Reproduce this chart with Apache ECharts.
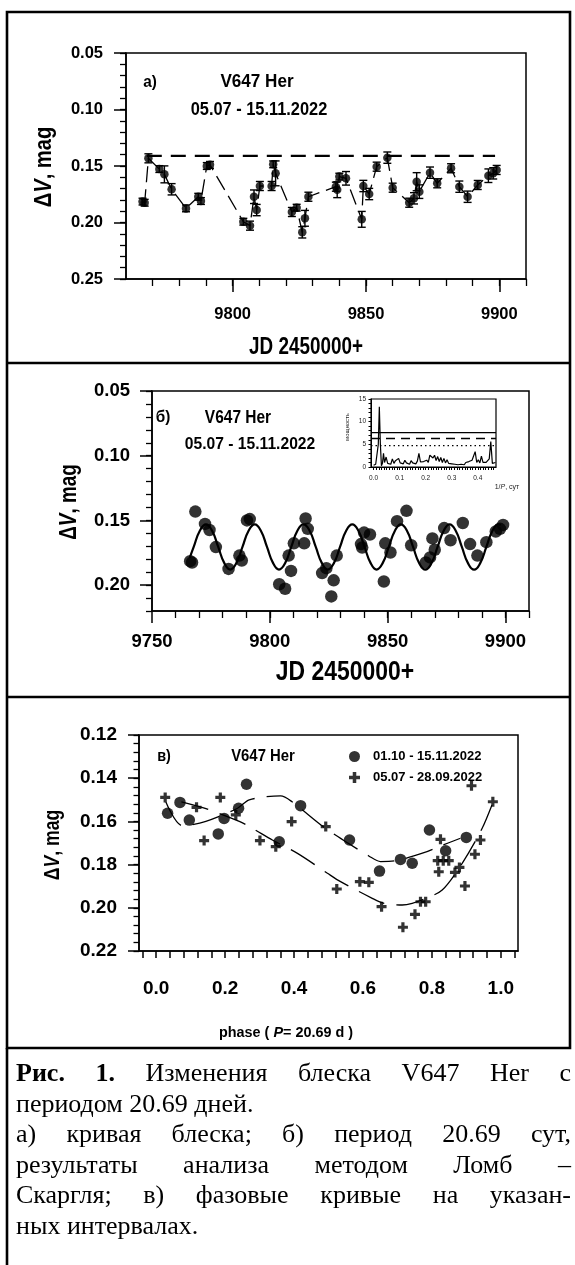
<!DOCTYPE html>
<html><head><meta charset="utf-8">
<script src="https://cdn.jsdelivr.net/npm/echarts@6/dist/echarts.min.js"></script>
<style>
html,body{margin:0;padding:0;background:#fff;}
#chart{position:absolute;left:0;top:0;width:575px;height:1265px;}
#cap{position:absolute;left:16px;width:555px;top:1058px;font-family:'Liberation Serif','Times New Roman',serif;font-size:26px;line-height:30.6px;color:#000;}
#cap .j{text-align:justify;text-align-last:justify;}
#cap div{white-space:nowrap;}
</style></head>
<body>
<div id="chart"></div>
<div id="cap">
<div class="j"><b>Рис. 1.</b> Изменения блеска V647 Her с</div>
<div>периодом 20.69 дней.</div>
<div class="j">а) кривая блеска; б) период 20.69 сут,</div>
<div class="j">результаты анализа методом Ломб –</div>
<div class="j">Скаргля; в) фазовые кривые на указан-</div>
<div>ных интервалах.</div>
</div>
<script>
// ---------- DATA ----------
// Light curve (panels a and б): JD 2450000+ and ΔV (mag), with errors for panel a
const jd = [9766.2, 9767.0, 9768.4, 9772.5, 9774.4, 9777.1, 9782.5, 9787.1, 9788.1, 9790.3, 9791.5, 9804.0, 9806.5, 9808.0, 9809.0, 9810.2, 9814.6, 9815.2, 9816.1, 9822.2, 9824.0, 9826.1, 9827.1, 9828.4, 9838.7, 9839.2, 9840.0, 9842.5, 9848.4, 9849.0, 9851.2, 9854.0, 9858.0, 9860.0, 9866.2, 9868.0, 9869.0, 9870.0, 9874.0, 9876.7, 9881.9, 9885.0, 9888.1, 9891.9, 9895.9, 9897.7, 9899.0];
const mag = [0.1815, 0.1825, 0.1432, 0.1527, 0.1574, 0.1706, 0.1875, 0.1772, 0.1810, 0.1500, 0.1490, 0.1993, 0.2028, 0.1772, 0.1890, 0.1677, 0.1677, 0.1485, 0.1565, 0.1907, 0.1869, 0.2087, 0.1963, 0.1772, 0.1683, 0.1710, 0.1594, 0.1609, 0.1972, 0.1677, 0.1748, 0.1506, 0.1426, 0.1692, 0.1825, 0.1786, 0.1639, 0.1727, 0.1559, 0.1653, 0.1520, 0.1683, 0.1772, 0.1668, 0.1586, 0.1565, 0.1535];
const magErr = [0.003, 0.003, 0.004, 0.003, 0.0075, 0.005, 0.003, 0.003, 0.003, 0.003, 0.003, 0.003, 0.004, 0.006, 0.005, 0.004, 0.004, 0.003, 0.011, 0.004, 0.003, 0.005, 0.007, 0.004, 0.004, 0.007, 0.003, 0.006, 0.007, 0.005, 0.005, 0.004, 0.005, 0.004, 0.004, 0.005, 0.008, 0.006, 0.005, 0.004, 0.004, 0.005, 0.005, 0.004, 0.006, 0.005, 0.004];
// Panel a: dashed reference level
const refJD = [9767.8, 9898.4];
const refMag = [0.141, 0.141];
// Panel б: fitted curve (P = 20.69 d)
const fitJD = [9766.0, 9767.7, 9770.3, 9772.9, 9775.5, 9778.1, 9780.7, 9783.2, 9785.8, 9788.4, 9791.0, 9793.6, 9796.2, 9798.8, 9801.4, 9803.9, 9806.5, 9809.1, 9811.7, 9814.3, 9816.9, 9819.5, 9822.1, 9824.6, 9827.2, 9829.8, 9832.4, 9835.0, 9837.6, 9840.2, 9842.8, 9845.3, 9847.9, 9850.5, 9853.1, 9855.6, 9858.2, 9860.8, 9863.4, 9866.0, 9868.6, 9871.2, 9873.8, 9876.3, 9878.9, 9881.5, 9884.1, 9886.7, 9889.3, 9891.9, 9894.5, 9897.0, 9898.0];
const fitMag = [0.179, 0.1705, 0.158, 0.153, 0.158, 0.1705, 0.183, 0.188, 0.183, 0.1705, 0.158, 0.153, 0.158, 0.1705, 0.183, 0.188, 0.183, 0.1705, 0.158, 0.153, 0.158, 0.1705, 0.183, 0.188, 0.183, 0.1705, 0.158, 0.153, 0.158, 0.1705, 0.183, 0.188, 0.183, 0.1705, 0.158, 0.153, 0.158, 0.1705, 0.183, 0.188, 0.183, 0.1705, 0.158, 0.153, 0.158, 0.1705, 0.183, 0.188, 0.183, 0.1705, 0.158, 0.153, 0.1535];
// Inset: Lomb-Scargle periodogram
const freq = [0.000, 0.008, 0.014, 0.018, 0.022, 0.026, 0.030, 0.034, 0.038, 0.042, 0.048, 0.054, 0.060, 0.066, 0.072, 0.078, 0.084, 0.090, 0.096, 0.102, 0.108, 0.114, 0.120, 0.126, 0.132, 0.138, 0.144, 0.150, 0.156, 0.162, 0.168, 0.174, 0.180, 0.186, 0.192, 0.198, 0.204, 0.210, 0.216, 0.222, 0.228, 0.234, 0.240, 0.246, 0.252, 0.258, 0.264, 0.270, 0.276, 0.282, 0.288, 0.294, 0.300, 0.306, 0.312, 0.318, 0.324, 0.330, 0.336, 0.342, 0.348, 0.354, 0.360, 0.366, 0.372, 0.378, 0.384, 0.390, 0.396, 0.402, 0.408, 0.414, 0.420, 0.426, 0.432, 0.438, 0.444, 0.450, 0.456, 0.462, 0.468];
const power = [0.4, 0.6, 1.0, 5.0, 13.3, 5.0, 0.3, 0.8, 3.0, 1.0, 2.2, 0.8, 1.2, 0.6, 1.8, 0.8, 1.4, 1.0, 1.9, 0.9, 1.2, 0.7, 1.5, 0.9, 1.1, 0.6, 1.4, 0.9, 1.2, 0.7, 1.3, 3.0, 1.1, 0.7, 1.2, 0.8, 1.5, 1.0, 2.6, 3.0, 2.0, 2.6, 1.4, 2.3, 1.2, 2.1, 1.0, 1.9, 0.9, 1.6, 0.8, 1.2, 0.7, 1.0, 0.6, 0.9, 0.5, 0.8, 0.6, 0.9, 0.5, 1.0, 0.8, 1.2, 0.9, 1.5, 1.2, 3.4, 1.0, 1.6, 0.9, 2.4, 1.0, 0.7, 1.0, 0.6, 1.8, 5.6, 0.8, 0.5, 1.0];
const sigLevels = [7.6, 6.3, 4.7];   // solid, dashed, dotted
// Panel в: phase curves
const circPhase = [0.033, 0.069, 0.096, 0.180, 0.197, 0.239, 0.262, 0.357, 0.419, 0.561, 0.648, 0.709, 0.743, 0.793, 0.840, 0.900];
const circMag = [0.1562, 0.1512, 0.1594, 0.1658, 0.1586, 0.1539, 0.1428, 0.1694, 0.1527, 0.1686, 0.1830, 0.1776, 0.1794, 0.1640, 0.1736, 0.1674];
const plusPhase = [0.026, 0.117, 0.139, 0.186, 0.231, 0.301, 0.347, 0.393, 0.492, 0.524, 0.591, 0.617, 0.654, 0.716, 0.751, 0.767, 0.782, 0.825, 0.817, 0.833, 0.849, 0.820, 0.867, 0.880, 0.896, 0.915, 0.925, 0.941, 0.977];
const plusMag = [0.1489, 0.1535, 0.1689, 0.1489, 0.1570, 0.1689, 0.1717, 0.1601, 0.1624, 0.1913, 0.1879, 0.1882, 0.1995, 0.2090, 0.2030, 0.1972, 0.1972, 0.1683, 0.1782, 0.1782, 0.1782, 0.1833, 0.1836, 0.1813, 0.1899, 0.1435, 0.1752, 0.1686, 0.1509];
const upPhase = [0.028, 0.076, 0.144, 0.236, 0.270, 0.361, 0.394, 0.487, 0.555, 0.617, 0.651, 0.695, 0.777, 0.820, 0.883];
const upMag = [0.151, 0.162, 0.160, 0.1539, 0.150, 0.1482, 0.1509, 0.1627, 0.1699, 0.1760, 0.1786, 0.1782, 0.1745, 0.1717, 0.1678];
const loPhase = [0.073, 0.142, 0.241, 0.279, 0.337, 0.410, 0.497, 0.535, 0.627, 0.661, 0.714, 0.743, 0.782, 0.830, 0.888, 0.946, 0.980];
const loMag = [0.151, 0.154, 0.160, 0.1632, 0.1686, 0.1748, 0.1840, 0.1879, 0.1956, 0.1979, 0.1987, 0.1979, 0.1956, 0.1918, 0.1794, 0.1632, 0.1501];
const legendNames = ['01.10 - 15.11.2022', '05.07 - 28.09.2022'];
// Tick labels
const aXLabels = [9800, 9850, 9900];
const aYLabels = [0.05, 0.10, 0.15, 0.20, 0.25];
const bXLabels = [9750, 9800, 9850, 9900];
const bYLabels = [0.05, 0.10, 0.15, 0.20];
const inXLabels = [0.0, 0.1, 0.2, 0.3, 0.4];
const inYLabels = [0, 5, 10, 15];
const cXLabels = [0.0, 0.2, 0.4, 0.6, 0.8, 1.0];
const cYLabels = [0.12, 0.14, 0.16, 0.18, 0.20, 0.22];

// ---------- helpers ----------
function range(a, b, s) { const r = []; const n = Math.round((b - a) / s); for (let i = 0; i <= n; i++) r.push(+(a + i * s).toFixed(6)); return r; }
function zip(a, b) { return a.map((v, i) => [v, b[i]]); }
const FN = "'Liberation Sans',Arial,sans-serif";
const K = '#000';

function mainAxis(o) {
  return {
    type: 'value', gridIndex: o.grid, position: o.pos, min: o.min, max: o.max, inverse: !!o.inverse,
    axisLine: { show: true, onZero: false, lineStyle: { color: K, width: o.lw || 1.5 } },
    axisTick: { show: true, inside: false, customValues: o.ticks, length: o.tlen, lineStyle: { color: K, width: o.lw || 1.5 } },
    axisLabel: { show: true, customValues: o.labels, formatter: o.fmt, margin: o.margin,
      fontFamily: FN, fontWeight: o.fw || 'bold', fontSize: o.fs, color: o.col || K },
    splitLine: { show: false }, minorTick: { show: false }
  };
}
function minorAxis(o) {
  return {
    type: 'value', gridIndex: o.grid, position: o.pos, min: o.min, max: o.max, inverse: !!o.inverse,
    axisLine: { show: false, onZero: false },
    axisTick: { show: true, inside: false, customValues: o.ticks, length: o.tlen, lineStyle: { color: K, width: o.lw || 1.3 } },
    axisLabel: { show: false }, splitLine: { show: false }
  };
}
const f2 = v => v.toFixed(2), f1 = v => v.toFixed(1), f0 = v => String(Math.round(v));

const plusPath = 'path://M3.4,0h3.2v3.4h3.4v3.2h-3.4v3.4h-3.2v-3.4h-3.4v-3.2h3.4z';

const xAxis = [
  mainAxis({ grid: 0, pos: 'bottom', min: 9760, max: 9910, ticks: aXLabels, labels: aXLabels, fmt: f0, tlen: 13, margin: 27, fs: 16.5 }),
  minorAxis({ grid: 0, pos: 'bottom', min: 9760, max: 9910, ticks: range(9770, 9910, 10), tlen: 7 }),
  mainAxis({ grid: 1, pos: 'bottom', min: 9750, max: 9910, ticks: bXLabels, labels: bXLabels, fmt: f0, tlen: 12, margin: 21, fs: 18.5 }),
  minorAxis({ grid: 1, pos: 'bottom', min: 9750, max: 9910, ticks: range(9760, 9910, 10), tlen: 7 }),
  mainAxis({ grid: 2, pos: 'bottom', min: -0.01, max: 0.47, ticks: range(0, 0.46, 0.01), labels: inXLabels, fmt: f1, tlen: 3, margin: 8, fs: 6.5, lw: 1, fw: 'normal', col: '#222' }),
  mainAxis({ grid: 3, pos: 'bottom', min: -0.05, max: 1.05, ticks: range(-0.04, 1.04, 0.04), labels: cXLabels, fmt: f1, tlen: 7, margin: 28, fs: 19 })
];
const yAxis = [
  mainAxis({ grid: 0, pos: 'left', min: 0.05, max: 0.25, inverse: true, ticks: aYLabels, labels: aYLabels, fmt: f2, tlen: 12, margin: 23, fs: 16.5 }),
  minorAxis({ grid: 0, pos: 'left', min: 0.05, max: 0.25, inverse: true, ticks: range(0.05, 0.25, 0.01), tlen: 6 }),
  mainAxis({ grid: 1, pos: 'left', min: 0.05, max: 0.22, inverse: true, ticks: bYLabels, labels: bYLabels, fmt: f2, tlen: 12, margin: 22, fs: 18.5 }),
  minorAxis({ grid: 1, pos: 'left', min: 0.05, max: 0.22, inverse: true, ticks: range(0.05, 0.22, 0.01), tlen: 6 }),
  mainAxis({ grid: 2, pos: 'left', min: 0, max: 15, ticks: range(0, 15, 1), labels: inYLabels, fmt: f0, tlen: 2.5, margin: 5, fs: 6.5, lw: 1, fw: 'normal', col: '#222' }),
  mainAxis({ grid: 3, pos: 'left', min: 0.12, max: 0.22, inverse: true, ticks: cYLabels, labels: cYLabels, fmt: f2, tlen: 11, margin: 22, fs: 19 }),
  minorAxis({ grid: 3, pos: 'left', min: 0.12, max: 0.22, inverse: true, ticks: range(0.12, 0.22, 0.004), tlen: 5.5 })
];

const grid = [
  { left: 126, top: 53, width: 400, height: 226, show: true, borderColor: K, borderWidth: 1.5, backgroundColor: 'transparent' },
  { left: 152, top: 391, width: 377, height: 220, show: true, borderColor: K, borderWidth: 1.5, backgroundColor: 'transparent' },
  { left: 371, top: 399, width: 125, height: 68, show: true, borderColor: K, borderWidth: 1.2, backgroundColor: '#fff' },
  { left: 139, top: 735, width: 379, height: 216, show: true, borderColor: K, borderWidth: 1.5, backgroundColor: 'transparent' }
];

const lcData = jd.map((x, i) => [x, mag[i]]);
const errData = jd.map((x, i) => [x, mag[i], magErr[i]]);

const series = [
  // panel a
  { type: 'line', xAxisIndex: 0, yAxisIndex: 0, data: lcData, symbol: 'none', lineStyle: { color: K, width: 1.3, type: [16, 7] }, silent: true, z: 2 },
  { type: 'line', xAxisIndex: 0, yAxisIndex: 0, data: zip(refJD, refMag), symbol: 'none', lineStyle: { color: K, width: 2.2, type: [15, 9] }, silent: true, z: 2 },
  { type: 'custom', xAxisIndex: 0, yAxisIndex: 0, data: errData, encode: { x: 0, y: 1 }, silent: true, z: 3,
    renderItem: function (params, api) {
      const x = api.value(0), y = api.value(1), e = api.value(2);
      const p1 = api.coord([x, y - e]), p2 = api.coord([x, y + e]);
      const w = 4, st = { stroke: K, lineWidth: 1.4 };
      return { type: 'group', children: [
        { type: 'line', shape: { x1: p1[0], y1: p1[1], x2: p2[0], y2: p2[1] }, style: st },
        { type: 'line', shape: { x1: p1[0] - w, y1: p1[1], x2: p1[0] + w, y2: p1[1] }, style: st },
        { type: 'line', shape: { x1: p2[0] - w, y1: p2[1], x2: p2[0] + w, y2: p2[1] }, style: st }
      ] };
    } },
  { type: 'scatter', xAxisIndex: 0, yAxisIndex: 0, data: lcData, symbol: 'circle', symbolSize: 8.5, itemStyle: { color: K }, z: 4 },
  // panel б
  { type: 'line', xAxisIndex: 2, yAxisIndex: 2, data: zip(fitJD, fitMag), smooth: true, symbol: 'none', lineStyle: { color: K, width: 2.2 }, silent: true, z: 2 },
  { type: 'scatter', xAxisIndex: 2, yAxisIndex: 2, data: lcData, symbol: 'circle', symbolSize: 12.5, itemStyle: { color: K }, z: 3 },
  // inset
  { type: 'line', xAxisIndex: 4, yAxisIndex: 4, data: zip(freq, power), symbol: 'none', lineStyle: { color: K, width: 1.2 }, silent: true, z: 5 },
  { type: 'line', xAxisIndex: 4, yAxisIndex: 4, data: [[-0.01, sigLevels[0]], [0.47, sigLevels[0]]], symbol: 'none', lineStyle: { color: K, width: 1.2 }, silent: true, z: 5 },
  { type: 'line', xAxisIndex: 4, yAxisIndex: 4, data: [[-0.01, sigLevels[1]], [0.47, sigLevels[1]]], symbol: 'none', lineStyle: { color: K, width: 1.6, type: [9, 6] }, silent: true, z: 5 },
  { type: 'line', xAxisIndex: 4, yAxisIndex: 4, data: [[-0.01, sigLevels[2]], [0.47, sigLevels[2]]], symbol: 'none', lineStyle: { color: K, width: 1.2, type: [1.5, 3] }, silent: true, z: 5 },
  // panel в
  { type: 'line', xAxisIndex: 5, yAxisIndex: 5, data: zip(upPhase, upMag), smooth: 0.3, symbol: 'none', lineStyle: { color: K, width: 1.3, type: [28, 12] }, silent: true, z: 2 },
  { type: 'line', xAxisIndex: 5, yAxisIndex: 5, data: zip(loPhase, loMag), smooth: 0.3, symbol: 'none', lineStyle: { color: K, width: 1.3, type: [28, 12] }, silent: true, z: 2 },
  { name: legendNames[0], type: 'scatter', xAxisIndex: 5, yAxisIndex: 5, data: zip(circPhase, circMag), symbol: 'circle', symbolSize: 11.5, itemStyle: { color: K }, z: 3 },
  { name: legendNames[1], type: 'scatter', xAxisIndex: 5, yAxisIndex: 5, data: zip(plusPhase, plusMag), symbol: plusPath, symbolSize: 10, itemStyle: { color: K }, z: 3 }
];

// text helper; sx condenses the text horizontally (the original uses a narrow face)
function T(text, x, y, fs, sx) {
  return { type: 'text', x: x, y: y, scaleX: sx || 1, silent: true, z: 50,
    style: { text: text, fontFamily: FN, fontWeight: 'bold', fontSize: fs, fill: K, align: 'center', verticalAlign: 'middle' } };
}
function dV(x, y, fs, sx) {
  return { type: 'text', x: x, y: y, rotation: Math.PI / 2, scaleX: sx, silent: true, z: 50,
    style: { text: '{a|Δ}{b|V}{a|, mag}', align: 'center', verticalAlign: 'middle', fill: K,
      rich: { a: { fontFamily: FN, fontWeight: 'bold', fontSize: fs, fill: K }, b: { fontFamily: FN, fontWeight: 'bold', fontStyle: 'italic', fontSize: fs, fill: K } } } };
}
const L = { stroke: K, lineWidth: 2.6 };
const graphic = [
  { type: 'rect', silent: true, z: 60, shape: { x: 7, y: 12, width: 563, height: 1036 }, style: { fill: null, stroke: K, lineWidth: 2.6 } },
  { type: 'line', silent: true, z: 60, shape: { x1: 7, y1: 363, x2: 570, y2: 363 }, style: L },
  { type: 'line', silent: true, z: 60, shape: { x1: 7, y1: 697, x2: 570, y2: 697 }, style: L },
  { type: 'line', silent: true, z: 60, shape: { x1: 7, y1: 1048, x2: 7, y2: 1265 }, style: L },
  // panel a
  T('а)', 150, 82, 17, 0.9), T('V647 Her', 257, 82, 18, 0.95), T('05.07 - 15.11.2022', 259, 110, 18, 0.91),
  dV(44, 167, 24, 0.84), T('JD 2450000+', 306, 348, 23, 0.82),
  // panel б
  T('б)', 163, 417, 17, 0.9), T('V647 Her', 238, 418, 18, 0.86), T('05.07 - 15.11.2022', 250, 444, 17, 0.92),
  dV(70, 502, 23, 0.82), T('JD 2450000+', 345, 673, 27, 0.85),
  // inset labels
  { type: 'text', x: 347, y: 427, rotation: Math.PI / 2, silent: true, z: 50,
    style: { text: 'мощность', fontFamily: FN, fontSize: 6, fill: '#222', align: 'center', verticalAlign: 'middle' } },
  { type: 'text', x: 507, y: 487, silent: true, z: 50,
    style: { text: '{a|1/}{b|P}{a|, сут}', align: 'center', verticalAlign: 'middle',
      rich: { a: { fontFamily: FN, fontSize: 7, fill: '#222' }, b: { fontFamily: FN, fontStyle: 'italic', fontSize: 7, fill: '#222' } } } },
  // panel в
  T('в)', 164, 757, 16, 0.9), T('V647 Her', 263, 757, 16, 0.93),
  dV(53, 845, 22, 0.8),
  { type: 'text', x: 286, y: 1033, scaleX: 0.96, silent: true, z: 50,
    style: { text: '{a|phase ( }{b|P}{a|= 20.69 d )}', align: 'center', verticalAlign: 'middle',
      rich: { a: { fontFamily: FN, fontWeight: 'bold', fontSize: 15, fill: K }, b: { fontFamily: FN, fontWeight: 'bold', fontStyle: 'italic', fontSize: 15, fill: K } } } }
];

const chart = echarts.init(document.getElementById('chart'), null, { renderer: 'canvas' });
chart.setOption({
  animation: false,
  backgroundColor: '#fff',
  grid: grid, xAxis: xAxis, yAxis: yAxis, series: series, graphic: graphic,
  legend: {
    data: [{ name: legendNames[0], icon: 'circle' }, { name: legendNames[1], icon: plusPath }],
    orient: 'vertical', left: 344, top: 745, itemWidth: 11, itemHeight: 11, itemGap: 8, selectedMode: false,
    textStyle: { fontFamily: FN, fontWeight: 'bold', fontSize: 13, color: K, padding: [0, 0, 0, 8] }
  }
});
</script>
</body></html>
